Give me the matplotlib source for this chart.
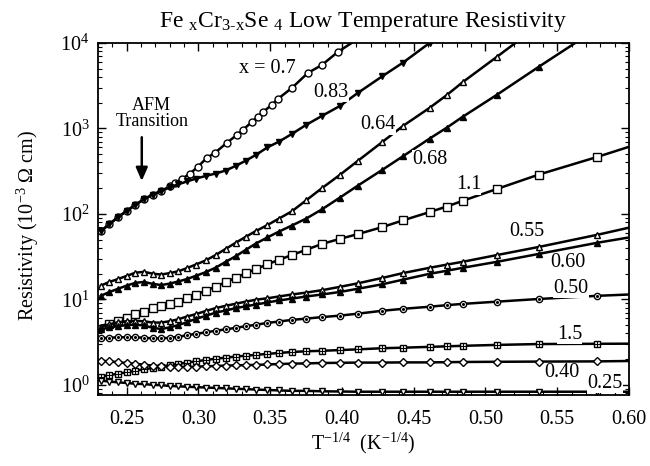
import matplotlib
matplotlib.use('Agg')
import matplotlib.pyplot as plt
from matplotlib.ticker import MultipleLocator, LogLocator, NullFormatter, FormatStrFormatter

plt.rcParams['font.family'] = ['Liberation Serif', 'DejaVu Serif']
plt.rcParams['mathtext.fontset'] = 'custom'
plt.rcParams['mathtext.rm'] = 'Liberation Serif'
plt.rcParams['mathtext.it'] = 'Liberation Serif:italic'
plt.rcParams['mathtext.bf'] = 'Liberation Serif:bold'

# ---------------- data ----------------
x_low = [0.232, 0.238, 0.244, 0.250, 0.256, 0.262, 0.268, 0.274, 0.280, 0.286,
         0.292, 0.298, 0.305, 0.312, 0.319, 0.326, 0.333, 0.340, 0.348, 0.356,
         0.365, 0.375, 0.386]
x_high = [0.3985, 0.411, 0.428, 0.4425, 0.461, 0.473, 0.484, 0.508, 0.537, 0.578, 0.600]
x_all = x_low + x_high

x_07 = [0.232, 0.238, 0.244, 0.250, 0.256, 0.262, 0.268, 0.274, 0.280, 0.2835,
        0.2884, 0.2939, 0.2995, 0.3058, 0.3114, 0.3197, 0.3267, 0.3309, 0.3372,
        0.3414, 0.3449, 0.3511, 0.3553, 0.3651, 0.3762, 0.3860, 0.3971, 0.4076]
y_07 = [63, 76, 92, 108, 128, 148, 168, 185, 210, 230,
        257, 294, 355, 452, 517, 677, 839, 960, 1191,
        1364, 1560, 1884, 2213, 2977, 4458, 5530, 7850, 10240]

y_083 = [63, 76, 92, 108, 128, 148, 168, 185, 205, 222, 240, 258, 278, 297, 322,
         365, 420, 490, 600, 700, 860, 1100, 1400,
         1830, 2600, 4070, 5890, 10000, 13800, 18000, 30000, 60000, 1e5, 1e5]

y_064 = [14.5, 16.0, 17.3, 18.8, 20.5, 21.0, 20.0, 19.5, 20.3, 21.3, 23.2, 25.5,
         28.5, 33, 39, 46, 54, 63, 74, 88, 107, 144, 200,
         286, 417, 692, 1070, 1740, 2455, 3470, 6900, 16000, 50000, 1e5]

y_068 = [11.0, 12.2, 13.3, 14.5, 15.6, 16.0, 15.2, 14.7, 15.3, 16.2, 17.3, 18.8,
         20.8, 23.5, 27.5, 32, 38, 45, 53, 62, 73, 88, 113,
         155, 214, 327, 473, 760, 1020, 1365, 2480, 5250, 14800, 25000]

y_11 = [4.9, 5.2, 5.6, 6.0, 6.7, 7.2, 7.9, 8.4, 8.9, 9.4, 10.3, 11.3, 12.6, 14.1,
        15.9, 17.9, 20.2, 22.6, 25.7, 29.0, 33.0, 38.0, 44.5,
        51, 58, 70, 84, 105, 122, 142, 196, 288, 465, 610]

y_055 = [4.8, 5.1, 5.4, 5.55, 5.6, 5.55, 5.35, 5.35, 5.55, 5.85, 6.3, 6.7, 7.3,
         7.9, 8.4, 8.9, 9.4, 9.9, 10.3, 10.8, 11.4, 12.0, 12.8,
         14.0, 15.4, 17.8, 20.3, 23.4, 25.5, 27.5, 33, 41, 57, 69]

y_060 = [4.45, 4.7, 4.85, 5.0, 5.05, 4.95, 4.65, 4.5, 4.7, 5.0, 5.4, 5.9, 6.4,
         7.0, 7.4, 7.9, 8.3, 8.7, 9.2, 9.7, 10.2, 10.8, 11.4,
         12.2, 13.3, 15.0, 17.0, 19.9, 21.6, 23.4, 27.5, 34, 46, 53]

y_050 = [3.5, 3.55, 3.6, 3.6, 3.6, 3.55, 3.5, 3.5, 3.55, 3.65, 3.8, 3.95, 4.1,
         4.3, 4.45, 4.65, 4.85, 5.05, 5.3, 5.5, 5.75, 5.95, 6.2,
         6.45, 6.8, 7.35, 7.75, 8.2, 8.55, 8.85, 9.4, 10.1, 11.0, 11.4]

y_15 = [1.25, 1.3, 1.35, 1.4, 1.46, 1.52, 1.57, 1.63, 1.7, 1.76, 1.82, 1.88,
        1.95, 2.02, 2.08, 2.14, 2.19, 2.24, 2.3, 2.36, 2.42, 2.47, 2.5,
        2.55, 2.6, 2.68, 2.72, 2.78, 2.82, 2.86, 2.93, 3.0, 3.02, 3.03]

y_040 = [1.92, 1.88, 1.84, 1.8, 1.76, 1.72, 1.68, 1.65, 1.63, 1.62, 1.62, 1.63,
         1.65, 1.66, 1.68, 1.69, 1.7, 1.71, 1.73, 1.75, 1.77, 1.78, 1.8,
         1.81, 1.82, 1.82, 1.83, 1.83, 1.84, 1.85, 1.86, 1.87, 1.88, 1.9]

y_025 = [1.12, 1.09, 1.07, 1.05, 1.03, 1.02, 1.0, 0.99, 0.97, 0.96, 0.95, 0.94,
         0.93, 0.92, 0.91, 0.9, 0.89, 0.88, 0.87, 0.86, 0.85, 0.85, 0.84,
         0.835, 0.83, 0.83, 0.83, 0.83, 0.83, 0.83, 0.83, 0.83, 0.83, 0.83]

curve_labels = ['x = 0.7', '0.83', '0.64', '0.68', '1.1', '0.55', '0.60', '0.50', '1.5', '0.40', '0.25']
label_x = [0.348, 0.3923, 0.425, 0.4613, 0.4881, 0.5286, 0.5572, 0.5596, 0.5586, 0.553, 0.5833]
label_y = [4965, 2637, 1099, 428, 218, 62.4, 27.1, 13.5, 3.9, 1.40, 1.03]

x_ticks = [0.25, 0.30, 0.35, 0.40, 0.45, 0.50, 0.55, 0.60]

# ---------------- figure ----------------
fig = plt.figure(figsize=(6.5, 4.66), dpi=100)
ax = fig.add_axes([98/650, 1-395/466, 531/650, 352/466])

lw = 1.8
mk = dict(color='k', mec='k', mew=1.0, lw=lw)

ax.plot(x_07, y_07, marker='o', ms=5, mfc='white', markevery=slice(0, -1), **mk)
ax.plot(x_all, y_083, marker='v', ms=5, mfc='k', **mk)
ax.plot(x_all, y_064, marker='^', ms=5, mfc='white', **mk)
ax.plot(x_all, y_068, marker='^', ms=5, mfc='k', **mk)
ax.plot(x_all, y_11, marker='s', ms=5.5, mfc='white', markevery=slice(1, -1), **mk)
ax.plot(x_all, y_055, marker='^', ms=4.5, mfc='white', markevery=slice(0, -1), **mk)
ax.plot(x_all, y_060, marker='^', ms=4.5, mfc='k', markevery=slice(0, -1), **mk)
ax.plot(x_all, y_050, marker='o', ms=4.5, mfc='white', markevery=slice(0, -1), **mk)
ax.plot(x_all[:-1], y_050[:-1], ls='none', marker='o', ms=1.2, color='k')
ax.plot(x_all, y_15, marker='s', ms=5, mfc='white', markevery=slice(0, -1), **mk)
ax.plot(x_all[:-1], y_15[:-1], ls='none', marker='+', ms=5, mew=0.8, color='k')
ax.plot(x_all, y_040, marker='D', ms=3.8, mfc='white', markevery=slice(0, -1), **mk)
ax.plot(x_all, y_025, marker='v', ms=5, mfc='white', markevery=slice(0, -1), **mk)

for t, lx, ly in zip(curve_labels, label_x, label_y):
    ax.text(lx, ly, t, fontsize=14.5, ha='center', va='center',
            bbox=dict(facecolor='white', edgecolor='none', pad=0.2) if t != 'x = 0.7' else None)

ax.text(0.2675, 1500, 'AFM\nTransition', fontsize=13, ha='center', va='center',
        linespacing=0.95)
ax.annotate('', xy=(0.2605, 225), xytext=(0.2605, 850),
            arrowprops=dict(arrowstyle='-|>,head_width=0.35,head_length=0.8',
                            color='k', lw=1.8))

ax.set_yscale('log')
ax.set_xlim(0.23, 0.60)
ax.set_ylim(0.76, 1e4)

ax.xaxis.set_major_locator(plt.FixedLocator(x_ticks))
ax.xaxis.set_minor_locator(MultipleLocator(0.01))
ax.xaxis.set_major_formatter(FormatStrFormatter('%.2f'))
ax.yaxis.set_major_locator(LogLocator(base=10, numticks=10))
ax.yaxis.set_minor_locator(LogLocator(base=10, subs=range(2, 10), numticks=20))
ax.yaxis.set_minor_formatter(NullFormatter())

ax.tick_params(which='both', direction='in', top=True, right=True, labelsize=14.5)
ax.tick_params(which='major', length=6, width=1.0)
ax.tick_params(which='minor', length=3, width=0.8)
ax.tick_params(axis='x', which='major', pad=11)
ax.tick_params(axis='y', which='major', pad=6)
for s in ax.spines.values():
    s.set_linewidth(1.3)

cx = (98 + 629) / 2 / 650
fig.text(cx, 1 - 22/466, r'Fe $_{\mathrm{x}}$Cr$_{\mathrm{3\text{-}x}}$Se $_{\mathrm{4}}$ Low Temperature Resistivity',
         ha='center', va='center', fontsize=17)
fig.text(cx, 1 - 449/466, r'T$^{\mathrm{-1/4}}$  (K$^{\mathrm{-1/4}}$)', ha='center', va='baseline', fontsize=14.5)
fig.text(28/650, 1 - 226/466, r'Resistivity (10$^{\mathrm{-3}}$ Ω cm)', ha='center', va='center',
         rotation=90, fontsize=14.5)

fig.savefig('out.png', dpi=100)
